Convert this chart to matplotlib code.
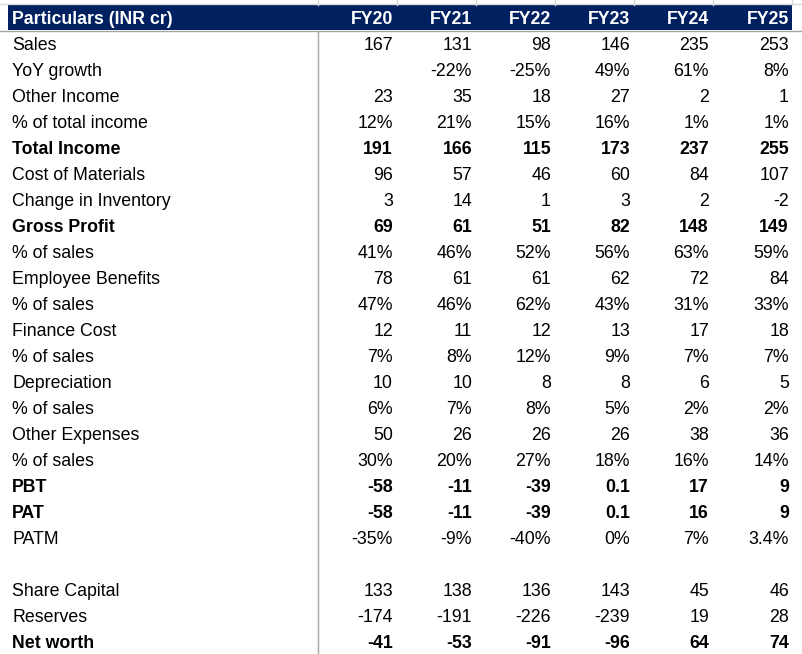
import matplotlib.pyplot as plt
from matplotlib.patches import Rectangle

# data of the table
years = ['FY20', 'FY21', 'FY22', 'FY23', 'FY24', 'FY25']
labels = ['Sales', 'YoY growth', 'Other Income', '% of total income', 'Total Income',
          'Cost of Materials', 'Change in Inventory', 'Gross Profit', '% of sales',
          'Employee Benefits', '% of sales', 'Finance Cost', '% of sales',
          'Depreciation', '% of sales', 'Other Expenses', '% of sales',
          'PBT', 'PAT', 'PATM', '', 'Share Capital', 'Reserves', 'Net worth']
values = [
    ['167', '131', '98', '146', '235', '253'],
    ['', '-22%', '-25%', '49%', '61%', '8%'],
    ['23', '35', '18', '27', '2', '1'],
    ['12%', '21%', '15%', '16%', '1%', '1%'],
    ['191', '166', '115', '173', '237', '255'],
    ['96', '57', '46', '60', '84', '107'],
    ['3', '14', '1', '3', '2', '-2'],
    ['69', '61', '51', '82', '148', '149'],
    ['41%', '46%', '52%', '56%', '63%', '59%'],
    ['78', '61', '61', '62', '72', '84'],
    ['47%', '46%', '62%', '43%', '31%', '33%'],
    ['12', '11', '12', '13', '17', '18'],
    ['7%', '8%', '12%', '9%', '7%', '7%'],
    ['10', '10', '8', '8', '6', '5'],
    ['6%', '7%', '8%', '5%', '2%', '2%'],
    ['50', '26', '26', '26', '38', '36'],
    ['30%', '20%', '27%', '18%', '16%', '14%'],
    ['-58', '-11', '-39', '0.1', '17', '9'],
    ['-58', '-11', '-39', '0.1', '16', '9'],
    ['-35%', '-9%', '-40%', '0%', '7%', '3.4%'],
    ['', '', '', '', '', ''],
    ['133', '138', '136', '143', '45', '46'],
    ['-174', '-191', '-226', '-239', '19', '28'],
    ['-41', '-53', '-91', '-96', '64', '74'],
]
bold_rows = ['Total Income', 'Gross Profit', 'PBT', 'PAT', 'Net worth']

plt.rcParams['font.family'] = ['Liberation Sans', 'DejaVu Sans']

fig = plt.figure(figsize=(8.02, 6.54), dpi=100)
ax = fig.add_axes([0, 0, 1, 1])
ax.set_xlim(0, 802)
ax.set_ylim(654, 0)
ax.axis('off')

col_right = [393, 472, 551, 630, 709, 789]
fs = 12.8

# gridlines at the top like in excel
ax.plot([0, 802], [3.5, 3.5], color='#d9d9d9', lw=1)
for x in [318, 397, 476, 555, 634, 713, 792]:
    ax.plot([x, x], [0, 5], color='#d9d9d9', lw=1)

# header band
ax.add_patch(Rectangle((8, 5), 784, 25, color='#002060', lw=0))
ax.text(12, 24.5, 'Particulars (INR cr)', color='white', fontsize=fs,
        fontweight='bold', va='baseline', ha='left')
for i, y in enumerate(years):
    ax.text(col_right[i], 24.5, y, color='white', fontsize=fs,
            fontweight='bold', va='baseline', ha='right')

ax.plot([0, 802], [30.5, 30.5], color='#a6a6a6', lw=1)
ax.plot([318, 318], [30.5, 654], color='#a6a6a6', lw=1)

for r, lab in enumerate(labels):
    y = 50 + r * 26
    w = 'bold' if lab in bold_rows else 'normal'
    ax.text(12, y, lab, fontsize=fs, fontweight=w, va='baseline', ha='left')
    for i, v in enumerate(values[r]):
        ax.text(col_right[i], y, v, fontsize=fs, fontweight=w, va='baseline', ha='right')

fig.savefig('out.png', dpi=100)
